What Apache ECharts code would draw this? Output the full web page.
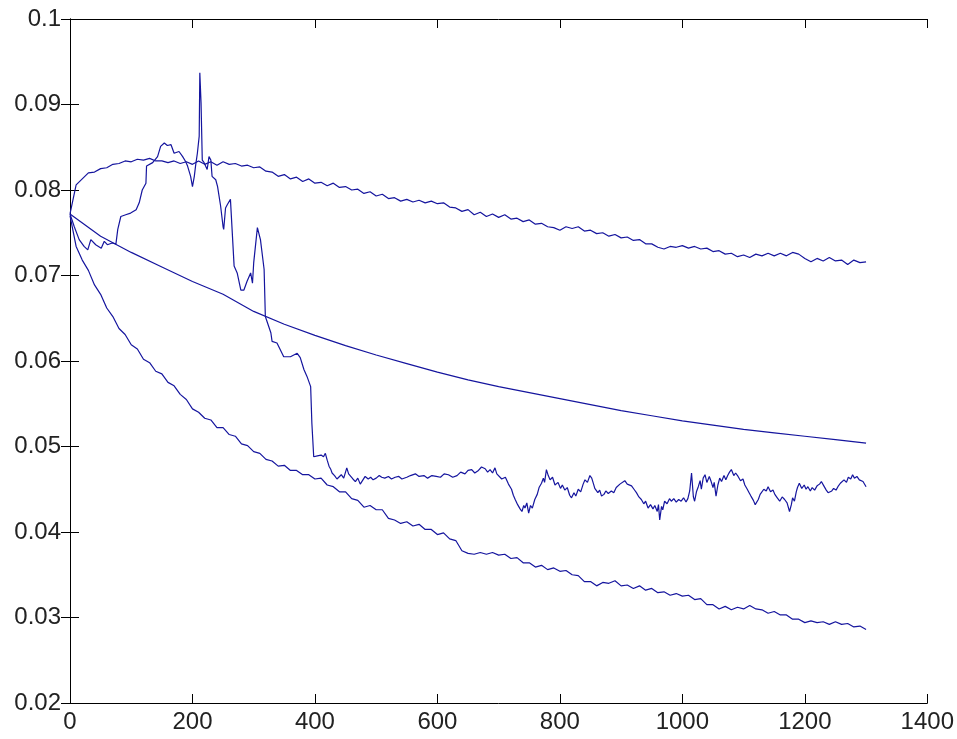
<!DOCTYPE html>
<html>
<head>
<meta charset="utf-8">
<script src="https://cdn.jsdelivr.net/npm/echarts@6/dist/echarts.min.js"></script>
<style>
  html, body { margin: 0; padding: 0; background: #fff; }
  #chart { width: 957px; height: 739px; }
</style>
</head>
<body>
<div id="chart"></div>
<script>
// Axis ranges and tick labels
const xTicks = [0, 200, 400, 600, 800, 1000, 1200, 1400];
const yTicks = [0.02, 0.03, 0.04, 0.05, 0.06, 0.07, 0.08, 0.09, 0.1];

// Upper and lower curves are sampled every SAMPLE_STEP iterations (0..1300)
const SAMPLE_STEP = 10;

const upperY = [
  0.0772, 0.0806, 0.0813, 0.0820, 0.0821, 0.0825, 0.0826, 0.0830, 0.0831, 0.0834,
  0.0833, 0.0836, 0.0835, 0.0837, 0.0834, 0.0834, 0.0832, 0.0834, 0.0831, 0.0833,
  0.0830, 0.0834, 0.0830, 0.0833, 0.0829, 0.0833, 0.0830, 0.0831, 0.0828, 0.0829,
  0.0826, 0.0827, 0.0822, 0.0821, 0.0816, 0.0818, 0.0813, 0.0815, 0.0810, 0.0813,
  0.0808, 0.0809, 0.0805, 0.0808, 0.0803, 0.0804, 0.0800, 0.0801, 0.0796, 0.0798,
  0.0793, 0.0795, 0.0790, 0.0791, 0.0787, 0.0789, 0.0786, 0.0788, 0.0785, 0.0787,
  0.0784, 0.0785, 0.0780, 0.0779, 0.0775, 0.0777, 0.0771, 0.0774, 0.0769, 0.0772,
  0.0768, 0.0771, 0.0766, 0.0767, 0.0763, 0.0765, 0.0760, 0.0761, 0.0757, 0.0756,
  0.0753, 0.0757, 0.0755, 0.0757, 0.0752, 0.0753, 0.0749, 0.0750, 0.0746, 0.0748,
  0.0744, 0.0745, 0.0741, 0.0742, 0.0737, 0.0737, 0.0733, 0.0731, 0.0734, 0.0733,
  0.0735, 0.0732, 0.0734, 0.0731, 0.0732, 0.0728, 0.0729, 0.0725, 0.0726, 0.0722,
  0.0724, 0.0721, 0.0725, 0.0723, 0.0726, 0.0723, 0.0726, 0.0723, 0.0727, 0.0725,
  0.0720, 0.0716, 0.0720, 0.0717, 0.0721, 0.0717, 0.0718, 0.0713, 0.0718, 0.0715,
  0.0716
];

const lowerY = [
  0.0770, 0.0734, 0.0718, 0.0706, 0.0689, 0.0678, 0.0662, 0.0652, 0.0638, 0.0631,
  0.0619, 0.0614, 0.0602, 0.0598, 0.0588, 0.0585, 0.0575, 0.0571, 0.0561, 0.0555,
  0.0544, 0.0540, 0.0533, 0.0531, 0.0522, 0.0522, 0.0514, 0.0512, 0.0503, 0.0501,
  0.0494, 0.0492, 0.0485, 0.0483, 0.0477, 0.0478, 0.0472, 0.0472, 0.0467, 0.0467,
  0.0462, 0.0463, 0.0455, 0.0453, 0.0447, 0.0447, 0.0439, 0.0437, 0.0429, 0.0431,
  0.0426, 0.0426, 0.0416, 0.0414, 0.0410, 0.0412, 0.0407, 0.0409, 0.0403, 0.0403,
  0.0397, 0.0399, 0.0392, 0.0390, 0.0378, 0.0375, 0.0374, 0.0376, 0.0374, 0.0376,
  0.0373, 0.0374, 0.0369, 0.0370, 0.0364, 0.0364, 0.0359, 0.0361, 0.0356, 0.0358,
  0.0354, 0.0355, 0.0350, 0.0349, 0.0342, 0.0342, 0.0337, 0.0341, 0.0340, 0.0343,
  0.0337, 0.0338, 0.0334, 0.0337, 0.0332, 0.0334, 0.0329, 0.0330, 0.0326, 0.0328,
  0.0325, 0.0326, 0.0321, 0.0322, 0.0315, 0.0315, 0.0310, 0.0313, 0.0309, 0.0312,
  0.0310, 0.0314, 0.0310, 0.0309, 0.0305, 0.0307, 0.0303, 0.0303, 0.0298, 0.0298,
  0.0294, 0.0296, 0.0294, 0.0295, 0.0292, 0.0295, 0.0292, 0.0293, 0.0289, 0.0290,
  0.0286
];

// Smooth decaying curve
const smoothX = [0, 50, 100, 150, 200, 250, 300, 350, 400, 450, 500, 550, 600, 650,
  700, 750, 800, 850, 900, 950, 1000, 1050, 1100, 1150, 1200, 1250, 1300];
const smoothY = [0.0772, 0.0746, 0.0727, 0.0710, 0.0693, 0.0678, 0.0658, 0.0643,
  0.0630, 0.0618, 0.0607, 0.0597, 0.0587, 0.0578, 0.0570, 0.0563, 0.0556, 0.0549,
  0.0542, 0.0536, 0.0530, 0.0525, 0.0520, 0.0516, 0.0512, 0.0508, 0.0504];

// Volatile curve as [iteration, value] pairs (irregular sampling)
const volPoints = [
  [0, 0.0772], [7, 0.0757], [15, 0.0742], [23, 0.0734], [29, 0.0730], [34, 0.0742],
  [42, 0.0736], [51, 0.0732], [56, 0.0740], [61, 0.0736], [69, 0.0738], [75, 0.0737],
  [78, 0.0754], [83, 0.0769], [91, 0.0771], [99, 0.0773], [108, 0.0777], [113, 0.0785],
  [118, 0.0800], [124, 0.0808], [125, 0.0828], [135, 0.0832], [143, 0.0839], [148, 0.0851],
  [154, 0.0855], [159, 0.0852], [165, 0.0853], [170, 0.0843], [178, 0.0845], [184, 0.0839],
  [189, 0.0833], [192, 0.0828], [197, 0.0816], [200, 0.0804], [203, 0.0816], [205, 0.0828],
  [208, 0.0843], [211, 0.0863], [212, 0.0937], [214, 0.0902], [216, 0.0835], [219, 0.0832],
  [224, 0.0824], [227, 0.0839], [230, 0.0835], [232, 0.0816], [238, 0.0812], [241, 0.0804],
  [246, 0.0781], [250, 0.0757], [251, 0.0754], [254, 0.0779], [257, 0.0783], [262, 0.0789],
  [268, 0.0711], [273, 0.0703], [279, 0.0683], [284, 0.0683], [289, 0.0693], [295, 0.0703],
  [298, 0.0691], [300, 0.0715], [306, 0.0756], [311, 0.0742], [317, 0.0707], [319, 0.0652],
  [328, 0.0633], [330, 0.0623], [338, 0.0621], [349, 0.0605], [360, 0.0605], [371, 0.0609],
  [376, 0.0604], [382, 0.0590], [387, 0.0582], [393, 0.0570], [395, 0.0527], [398, 0.0488],
  [401, 0.0486], [404, 0.0489], [406, 0.0487], [410, 0.0490], [414, 0.0488], [417, 0.0492],
  [420, 0.0484], [423, 0.0477], [426, 0.0473], [428, 0.0469], [432, 0.0466], [436, 0.0462],
  [439, 0.0461], [443, 0.0467], [447, 0.0463], [452, 0.0475], [455, 0.0468], [458, 0.0470],
  [462, 0.0462], [466, 0.0459], [470, 0.0463], [474, 0.0456], [477, 0.0458], [482, 0.0465],
  [487, 0.0462], [491, 0.0464], [495, 0.0461], [500, 0.0463], [505, 0.0466], [509, 0.0464],
  [514, 0.0463], [520, 0.0465], [525, 0.0462], [531, 0.0464], [537, 0.0465], [542, 0.0462],
  [550, 0.0464], [556, 0.0466], [564, 0.0468], [570, 0.0465], [578, 0.0466], [584, 0.0463],
  [591, 0.0466], [598, 0.0465], [605, 0.0464], [611, 0.0468], [618, 0.0467], [625, 0.0464],
  [632, 0.0466], [638, 0.0470], [645, 0.0468], [650, 0.0472], [656, 0.0473], [661, 0.0469],
  [667, 0.0472], [672, 0.0476], [678, 0.0474], [682, 0.0470], [686, 0.0473], [690, 0.0469],
  [694, 0.0475], [697, 0.0468], [700, 0.0466], [705, 0.0462], [711, 0.0464], [716, 0.0456],
  [721, 0.0450], [724, 0.0443], [727, 0.0438], [731, 0.0432], [735, 0.0427], [738, 0.0424],
  [741, 0.0431], [743, 0.0428], [746, 0.0434], [749, 0.0422], [752, 0.0431], [755, 0.0428],
  [759, 0.0438], [763, 0.0444], [766, 0.0452], [770, 0.0457], [773, 0.0463], [775, 0.0458],
  [778, 0.0473], [781, 0.0466], [784, 0.0461], [788, 0.0464], [792, 0.0455], [797, 0.0458],
  [801, 0.0451], [804, 0.0455], [808, 0.0449], [812, 0.0452], [816, 0.0443], [819, 0.0440],
  [823, 0.0446], [826, 0.0442], [830, 0.0450], [834, 0.0447], [838, 0.0456], [841, 0.0461],
  [845, 0.0458], [849, 0.0466], [852, 0.0463], [855, 0.0456], [857, 0.0451], [862, 0.0446],
  [865, 0.0449], [868, 0.0442], [872, 0.0444], [875, 0.0448], [879, 0.0445], [884, 0.0448],
  [888, 0.0446], [892, 0.0452], [895, 0.0450], [898, 0.0456], [901, 0.0454], [906, 0.0460],
  [910, 0.0456], [913, 0.0458], [917, 0.0454], [921, 0.0450], [925, 0.0446], [929, 0.0441],
  [933, 0.0438], [937, 0.0433], [940, 0.0436], [944, 0.0428], [948, 0.0432], [952, 0.0427],
  [955, 0.0431], [959, 0.0424], [961, 0.0432], [963, 0.0414], [966, 0.0430], [968, 0.0426],
  [971, 0.0436], [975, 0.0433], [979, 0.0439], [982, 0.0436], [986, 0.0439], [990, 0.0435],
  [994, 0.0438], [998, 0.0436], [1002, 0.0440], [1006, 0.0435], [1009, 0.0439], [1012, 0.0448],
  [1015, 0.0469], [1018, 0.0441], [1020, 0.0436], [1023, 0.0447], [1026, 0.0453], [1029, 0.0460],
  [1031, 0.0450], [1034, 0.0463], [1037, 0.0467], [1040, 0.0458], [1044, 0.0465], [1047, 0.0459],
  [1050, 0.0452], [1052, 0.0458], [1055, 0.0442], [1058, 0.0455], [1061, 0.0463], [1064, 0.0459],
  [1068, 0.0466], [1071, 0.0461], [1074, 0.0466], [1077, 0.0470], [1080, 0.0473], [1084, 0.0466],
  [1087, 0.0469], [1091, 0.0465], [1095, 0.0460], [1099, 0.0462], [1102, 0.0455], [1106, 0.0450],
  [1109, 0.0446], [1112, 0.0442], [1116, 0.0437], [1119, 0.0432], [1121, 0.0430], [1124, 0.0438],
  [1127, 0.0444], [1129, 0.0446], [1133, 0.0450], [1137, 0.0448], [1140, 0.0453], [1144, 0.0447],
  [1148, 0.0449], [1151, 0.0444], [1155, 0.0440], [1159, 0.0436], [1163, 0.0441], [1167, 0.0438],
  [1171, 0.0434], [1175, 0.0424], [1178, 0.0432], [1180, 0.0440], [1183, 0.0436], [1186, 0.0447],
  [1188, 0.0452], [1191, 0.0457], [1195, 0.0451], [1199, 0.0455], [1202, 0.0450], [1205, 0.0453],
  [1209, 0.0448], [1212, 0.0452], [1216, 0.0449], [1220, 0.0454], [1224, 0.0456], [1227, 0.0459],
  [1231, 0.0454], [1235, 0.0449], [1238, 0.0446], [1240, 0.0444], [1244, 0.0448], [1247, 0.0451],
  [1251, 0.0449], [1254, 0.0453], [1258, 0.0457], [1261, 0.0455], [1264, 0.0461], [1268, 0.0458],
  [1271, 0.0464], [1275, 0.0462], [1278, 0.0467], [1281, 0.0463], [1285, 0.0465], [1289, 0.0461],
  [1292, 0.0463], [1295, 0.0459], [1297, 0.0457], [1300, 0.0453]
];

const LINE_COLOR = '#15159e';
const FONT = "'Liberation Sans', Arial, Helvetica, sans-serif";

function stepped(values) {
  return values.map((v, i) => [i * SAMPLE_STEP, v]);
}
function paired(xs, ys) {
  return xs.map((x, i) => [x, ys[i]]);
}

const chart = echarts.init(document.getElementById('chart'), null, { renderer: 'canvas' });

const xMin = xTicks[0], xMax = xTicks[xTicks.length - 1];
const xInt = xTicks[1] - xTicks[0];
const yMin = yTicks[0], yMax = yTicks[yTicks.length - 1];
const yInt = 0.01;

const labelStyle = { color: '#222', fontSize: 24, fontFamily: FONT };
const axisLine = { show: true, lineStyle: { color: '#000', width: 1 } };
const tick = { show: true, inside: true, length: 9, lineStyle: { color: '#000', width: 1 } };

function lineSeries(data) {
  return {
    type: 'line',
    data: data,
    xAxisIndex: 0,
    yAxisIndex: 0,
    showSymbol: false,
    symbol: 'none',
    smooth: false,
    lineStyle: { color: LINE_COLOR, width: 1.2 },
    z: 3
  };
}

chart.setOption({
  animation: false,
  backgroundColor: '#fff',
  grid: { left: 70, top: 19, width: 859, height: 684, show: false },
  xAxis: [
    {
      type: 'value', position: 'bottom', min: xMin, max: xMax, interval: xInt,
      axisLine: axisLine, axisTick: tick, splitLine: { show: false },
      axisLabel: Object.assign({ margin: 7, formatter: v => String(v) }, labelStyle)
    },
    {
      type: 'value', position: 'top', min: xMin, max: xMax, interval: xInt,
      axisLine: axisLine, axisTick: tick, splitLine: { show: false },
      axisLabel: { show: false }
    }
  ],
  yAxis: [
    {
      type: 'value', position: 'left', min: yMin, max: yMax, interval: yInt,
      axisLine: axisLine, axisTick: tick, splitLine: { show: false },
      axisLabel: Object.assign({
        margin: 9,
        formatter: v => String(+v.toFixed(2))
      }, labelStyle)
    },
    {
      type: 'value', position: 'right', min: yMin, max: yMax, interval: yInt,
      axisLine: axisLine, axisTick: tick, splitLine: { show: false },
      axisLabel: { show: false }
    }
  ],
  series: [
    lineSeries(stepped(upperY)),
    lineSeries(paired(smoothX, smoothY)),
    lineSeries(volPoints),
    lineSeries(stepped(lowerY))
  ]
});
</script>
</body>
</html>
